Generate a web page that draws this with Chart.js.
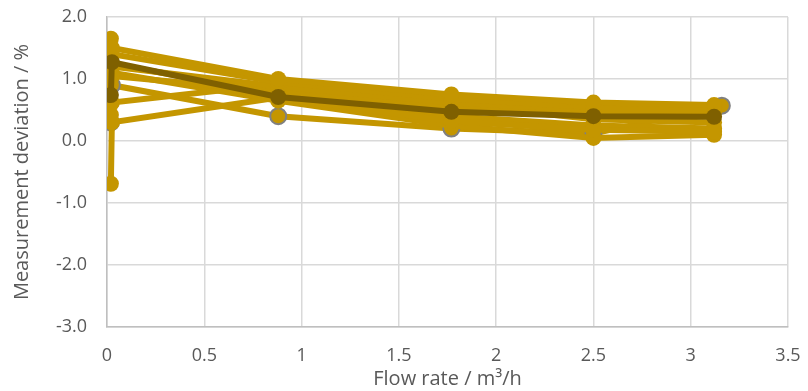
<!DOCTYPE html>
<html>
<head>
<meta charset="utf-8">
<script src="https://cdn.jsdelivr.net/npm/chart.js@4"></script>
<style>
  html, body { margin: 0; padding: 0; background: #fff; }
  #wrap { width: 808px; height: 391px; }
</style>
</head>
<body>
<div id="wrap"><canvas id="myChart"></canvas></div>
<script>
// flow rates (m3/h) of the test points
const flow = [0.02, 0.025, 0.88, 1.77, 2.5, 3.12];
const flowG = [0.02, 0.025, 0.88, 1.77, 2.5, 3.16];

// deviation per meter, %
const meterA = [-0.69, 0.30, 0.70, 0.32, 0.18, 0.15];
const meterB = [1.65, 1.50, 1.00, 0.75, 0.62, 0.58];
const meterC = [1.50, 1.40, 0.95, 0.68, 0.55, 0.55];
const meterD = [1.35, 1.20, 0.88, 0.62, 0.50, 0.50];
const meterE = [1.15, 1.05, 0.80, 0.55, 0.45, 0.48];
const meterF = [0.60, 0.62, 0.92, 0.60, 0.35, 0.30];
const meterG = [0.30, 0.90, 0.40, 0.20, 0.12, 0.57];
const meterH = [1.00, 1.10, 0.65, 0.25, 0.05, 0.10];
const meterI = [0.42, 1.25, 0.75, 0.40, 0.25, 0.20];
const meanDev = [0.74, 1.27, 0.71, 0.47, 0.40, 0.39];

const xTicks = [0, 0.5, 1, 1.5, 2, 2.5, 3, 3.5];
const yTicks = [-3, -2, -1, 0, 1, 2];

const gold = '#c49600';
const dark = '#7f6000';
const font = "'Open Sans', 'Noto Sans', sans-serif";

function pts(xs, ys) {
    return ys.map((y, i) => ({ x: xs[i], y: y }));
}

function series(xs, ys, color, edge) {
    return {
        data: pts(xs, ys),
        showLine: true,
        borderColor: color,
        backgroundColor: color,
        borderWidth: 6,
        pointRadius: 8,
        pointBorderWidth: edge ? 2 : 0,
        pointBorderColor: edge || color,
        pointHoverRadius: 8
    };
}

// first dataset is painted last (on top)
const datasets = [
    series(flow, meanDev, dark),
    series(flow, meterA, gold),
    series(flow, meterB, gold),
    series(flow, meterC, gold),
    series(flow, meterD, gold),
    series(flow, meterE, gold),
    series(flow, meterF, gold),
    series(flow, meterH, gold),
    series(flow, meterI, gold),
    series(flowG, meterG, gold, '#808080')
];

const ctx = document.getElementById('myChart').getContext('2d');
const myChart = new Chart(ctx, {
    type: 'scatter',
    data: { datasets: datasets },
    options: {
        responsive: true,
        maintainAspectRatio: false,
        animation: false,
        layout: { padding: { left: 0, right: 20, top: 17, bottom: 0 } },
        plugins: { legend: { display: false }, tooltip: { enabled: false } },
        scales: {
            x: {
                type: 'linear',
                min: xTicks[0],
                max: xTicks[xTicks.length - 1],
                afterBuildTicks: s => { s.ticks = xTicks.map(v => ({ value: v })); },
                afterFit: s => { s.height = 64; s.paddingLeft = 0; s.paddingRight = 0; },
                grid: { color: '#d9d9d9', lineWidth: 1.5, drawTicks: false },
                border: { color: '#bfbfbf', width: 1.5 },
                ticks: {
                    color: '#595959', font: { family: font, size: 18 }, padding: 18,
                    callback: v => String(v)
                },
                title: {
                    display: true, text: 'Flow rate / m³/h', color: '#595959',
                    font: { family: font, size: 20 }, padding: { top: -10, bottom: 0 }
                }
            },
            y: {
                type: 'linear',
                min: yTicks[0],
                max: yTicks[yTicks.length - 1],
                afterBuildTicks: s => { s.ticks = yTicks.map(v => ({ value: v })); },
                afterFit: s => { s.width = 107; s.paddingTop = 0; s.paddingBottom = 0; },
                grid: { color: '#d9d9d9', lineWidth: 1.5, drawTicks: false },
                border: { color: '#bfbfbf', width: 1.5 },
                ticks: {
                    color: '#595959', font: { family: font, size: 18 }, padding: 20,
                    callback: v => v.toFixed(1)
                },
                title: {
                    display: true, text: 'Measurement deviation / %', color: '#595959',
                    font: { family: font, size: 20 }, padding: { top: 10, bottom: 2 }
                }
            }
        }
    }
});
</script>
</body>
</html>
